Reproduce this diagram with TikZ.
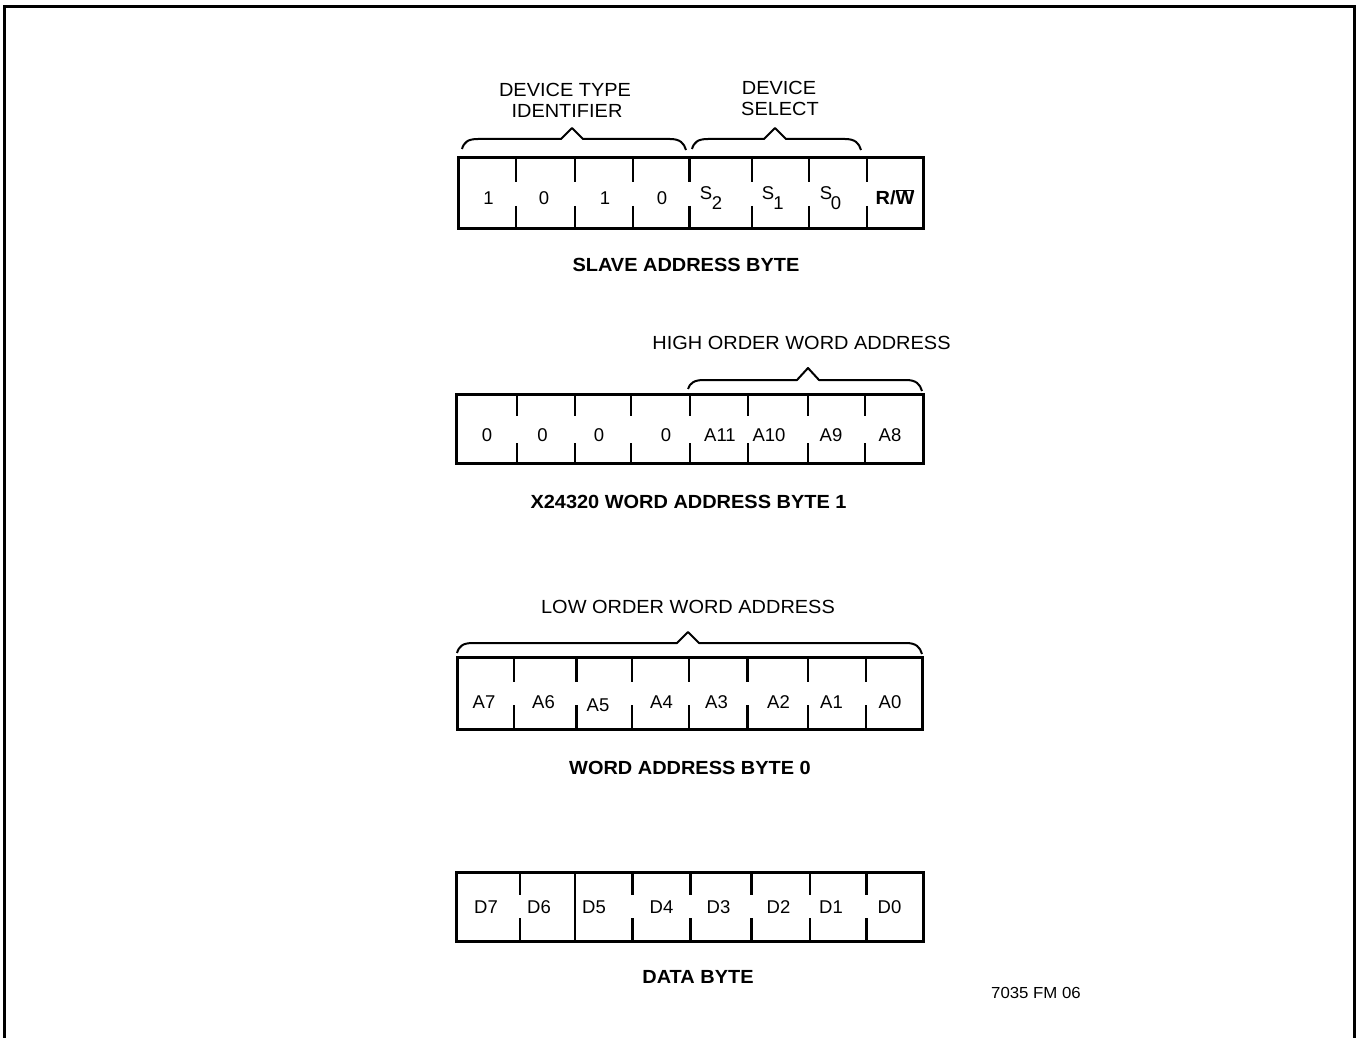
\documentclass[tikz,border=0pt]{standalone}
\usepackage{fontspec}
\setmainfont{Liberation Sans}
\newfontfamily\lblfont{Liberation Sans}[FakeStretch=1.05]
\begin{document}
\begin{tikzpicture}[x=1pt,y=-1pt,
  frame/.style={line width=3pt},
  boxout/.style={draw,line width=3pt,inner sep=0pt},
  divider/.style={line width=2.6pt},
  brace/.style={line width=2pt,line join=round},
  cell/.style={inner sep=0pt,text height=13.2pt,text depth=0pt,font=\fontsize{18.5}{20}\selectfont},
  lbl/.style={inner sep=0pt,text height=13.6pt,text depth=0pt,font=\lblfont\fontsize{19}{21}\selectfont},
  blbl/.style={inner sep=0pt,text height=13.6pt,text depth=0pt,font=\lblfont\bfseries\fontsize{19}{21}\selectfont}]
\useasboundingbox (0,0) rectangle (1361,1038);
\fill[white] (0,0) rectangle (1361,1038);
% frame
\draw[frame] (4.5,1040) -- (4.5,7) -- (1354.5,7) -- (1354.5,1040);

% ===== Slave address byte =====
\node[boxout,minimum width=465pt,minimum height=70pt] (box1) at (690.5,193) {};
\foreach \x in {516,575,633,689.5,752,809,867}{
  \draw[divider] (\x,158) -- (\x,182);
  \draw[divider] (\x,206) -- (\x,228);
}
\node[cell] (b1a) at (488.5,197.5) {1};
\node[cell] (b1b) at (544,197.5) {0};
\node[cell] (b1c) at (605,197.5) {1};
\node[cell] (b1d) at (662,197.5) {0};
\node[cell] (b1s2) at (706,192.5) {S};
\node[cell] (b1s2i) at (717,202.5) {2};
\node[cell] (b1s1) at (768,192.5) {S};
\node[cell] (b1s1i) at (778.5,202.5) {1};
\node[cell] (b1s0) at (826,192.5) {S};
\node[cell] (b1s0i) at (836,202.5) {0};
\node[blbl] (b1rw) at (895,197.5) {R/$\overline{\mbox{W}}$};
\draw[brace] (462,149) .. controls (464,142) and (468,139) .. (478,139) -- (561,139) -- (572,128) -- (583,139) -- (670,139) .. controls (680,139) and (684,143) .. (686,150);
\draw[brace] (692,149) .. controls (694,142) and (698,139) .. (708,139) -- (764,139) -- (775,128) -- (786,139) -- (845,139) .. controls (855,139) and (859,143) .. (861,150);
\node[lbl] (dti1) at (565,90) {DEVICE TYPE};
\node[lbl] (dti2) at (567,111) {IDENTIFIER};
\node[lbl] (ds1) at (779,87.5) {DEVICE};
\node[lbl] (ds2) at (780,109) {SELECT};
\node[blbl] (sab) at (686,265) {SLAVE ADDRESS BYTE};

% ===== Word address byte 1 =====
\node[boxout,minimum width=467pt,minimum height=69pt] (box2) at (689.5,428.5) {};
\foreach \x in {517,575,631,690,748,808,865}{
  \draw[divider] (\x,394) -- (\x,416);
  \draw[divider] (\x,443) -- (\x,463);
}
\node[cell] (b2a) at (487,435) {0};
\node[cell] (b2b) at (542.5,435) {0};
\node[cell] (b2c) at (599,435) {0};
\node[cell] (b2d) at (666,435) {0};
\node[cell] (b2e) at (720,435) {A11};
\node[cell] (b2f) at (769,435) {A10};
\node[cell] (b2g) at (831,435) {A9};
\node[cell] (b2h) at (890,435) {A8};
\draw[brace] (688,389) .. controls (690,383) and (694,380) .. (704,380) -- (797,380) -- (808,368) -- (819,380) -- (906,380) .. controls (916,380) and (920,384) .. (922,391);
\node[lbl] (hwa) at (801.5,343) {HIGH ORDER WORD ADDRESS};
\node[blbl] (wab1) at (688.5,502) {X24320 WORD ADDRESS BYTE 1};

% ===== Word address byte 0 =====
\node[boxout,minimum width=465pt,minimum height=72pt] (box3) at (689.5,693) {};
\foreach \x in {514,576.5,632,689,747.5,808,866}{
  \draw[divider] (\x,657) -- (\x,682);
  \draw[divider] (\x,705) -- (\x,729);
}
\node[cell] (b3a) at (484,701.5) {A7};
\node[cell] (b3b) at (543.5,701.5) {A6};
\node[cell] (b3c) at (598,705) {A5};
\node[cell] (b3d) at (661.5,701.5) {A4};
\node[cell] (b3e) at (716.5,701.5) {A3};
\node[cell] (b3f) at (778.5,701.5) {A2};
\node[cell] (b3g) at (831.5,701.5) {A1};
\node[cell] (b3h) at (890,701.5) {A0};
\draw[brace] (457,653) .. controls (459,646) and (463,643) .. (473,643) -- (677,643) -- (688,632) -- (699,643) -- (906,643) .. controls (916,643) and (920,647) .. (922,654);
\node[lbl] (lwa) at (688,607) {LOW ORDER WORD ADDRESS};
\node[blbl] (wab0) at (690,768) {WORD ADDRESS BYTE 0};

% ===== Data byte =====
\node[boxout,minimum width=466.5pt,minimum height=69pt] (box4) at (689.75,907) {};
\foreach \x in {520,632.5,690.5,751.5,810,866.5}{
  \draw[divider] (\x,872.5) -- (\x,895);
  \draw[divider] (\x,918) -- (\x,941.5);
}
\draw[divider] (575,872.5) -- (575,941.5);
\node[cell] (b4a) at (486,907) {D7};
\node[cell] (b4b) at (539,907) {D6};
\node[cell] (b4c) at (594,907) {D5};
\node[cell] (b4d) at (661.5,907) {D4};
\node[cell] (b4e) at (718.5,907) {D3};
\node[cell] (b4f) at (778.5,907) {D2};
\node[cell] (b4g) at (831,907) {D1};
\node[cell] (b4h) at (889.5,907) {D0};
\node[blbl] (db) at (698,977) {DATA BYTE};
\node[inner sep=0pt,text height=11.5pt,text depth=0pt,font=\lblfont\fontsize{16}{18}\selectfont] (fig) at (1036,993) {7035 FM 06};
\end{tikzpicture}
\end{document}
